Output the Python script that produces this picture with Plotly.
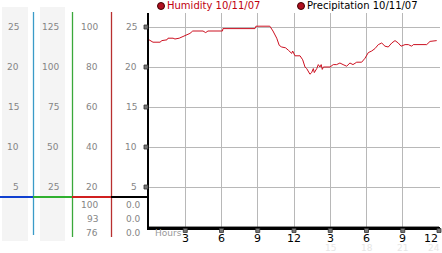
import plotly.graph_objects as go

W, H = 442, 253

# ---------------- data ----------------
hours = [0, 0.33, 0.91, 1.07, 1.49, 1.57, 1.99, 2.15, 2.5, 2.81, 3.14, 3.39, 3.62, 4.47, 4.69, 4.88,
         6.08, 6.12, 8.77, 8.85, 10.0, 10.26, 10.57, 10.78, 10.98, 11.3, 11.53, 11.81, 11.89, 12.08,
         12.5, 12.72, 12.91, 13.05, 13.32, 13.46, 13.6, 13.68, 13.88, 14.01, 14.15, 14.25, 14.34,
         14.43, 14.98, 15.25, 15.53, 15.8, 16.06, 16.36, 16.63, 16.88, 17.19, 17.6, 17.88, 18.15,
         18.43, 18.7, 18.98, 19.26, 19.53, 19.8, 20.09, 20.36, 20.63, 20.86, 21.19, 21.46, 21.74,
         21.87, 22.98, 23.26, 23.81]
humidity = [23.4, 23.1, 23.1, 23.3, 23.4, 23.6, 23.6, 23.5, 23.6, 23.8, 24.0, 24.2, 24.5, 24.5, 24.3,
            24.5, 24.5, 24.8, 24.8, 25.1, 25.1, 24.5, 23.6, 22.7, 22.5, 22.4, 22.1, 21.7, 22.0, 21.4,
            21.4, 20.9, 20.0, 19.8, 19.1, 19.3, 19.8, 19.3, 19.8, 20.3, 20.0, 20.3, 19.7, 20.0, 20.0,
            20.3, 20.3, 20.5, 20.3, 20.1, 20.5, 20.3, 20.6, 20.6, 21.1, 21.8, 22.0, 22.3, 22.8, 23.0,
            22.6, 22.5, 23.0, 23.3, 23.0, 22.6, 22.8, 22.8, 22.6, 22.8, 22.8, 23.2, 23.3]
precip_hours = [0, 24]
precipitation = [0.0, 0.0]

y_ticks = [5, 10, 15, 20, 25]
col1_labels = ["5", "10", "15", "20", "25"]
col2_labels = ["25", "50", "75", "100", "125"]
col3_labels = ["20", "40", "60", "80", "100"]
col4_labels = ["5", "10", "15", "20", "25"]
col3_stats = ["100", "93", "76"]
col4_stats = ["0.0", "0.0", "0.0"]

x_ticks = [3, 6, 9, 12, 15, 18, 21, 24]
x_tick_text = ["3", "6", "9", "12", "3", "6", "9", "12"]
x_faint_ticks = [15, 18, 21, 24]
x_faint_text = ["15", "18", "21", "24"]

legend_names = ["Humidity 10/11/07", "Precipitation 10/11/07"]

# ---------------- helpers ----------------
def X(px):
    return px / W

def Y(py):
    return 1 - py / H

FONT = "DejaVu Sans"
GREY = "#858585"
RED = "#cc1020"
X_END = 24.05
Y_END = 26.75
XDOM = [X(149), X(149 + 290 * X_END / 24)]
YDOM = [Y(227), Y(13)]

def xpaper(v):
    return XDOM[0] + (XDOM[1] - XDOM[0]) * v / X_END

def ypaper(v):
    return YDOM[0] + (YDOM[1] - YDOM[0]) * v / Y_END

fig = go.Figure()

fig.add_trace(go.Scatter(x=precip_hours, y=precipitation, mode="lines",
                         line=dict(color="#222222", width=1), hoverinfo="skip"))
fig.add_trace(go.Scatter(x=hours, y=humidity, mode="lines",
                         line=dict(color=RED, width=1), hoverinfo="skip"))

shapes = []
# grey column backgrounds
shapes.append(dict(type="rect", xref="paper", yref="paper", x0=X(2), x1=X(28), y0=Y(241), y1=Y(7),
                   fillcolor="#f4f4f4", line=dict(width=0), layer="below"))
shapes.append(dict(type="rect", xref="paper", yref="paper", x0=X(40), x1=X(65), y0=Y(241), y1=Y(7),
                   fillcolor="#f4f4f4", line=dict(width=0), layer="below"))
# vertical scale lines
for px, col, bottom in [(33.5, "#3a9bc8", 235), (72.5, "#3aa83a", 237), (111.5, "#b83030", 237)]:
    shapes.append(dict(type="line", xref="paper", yref="paper", x0=X(px), x1=X(px), y0=Y(bottom), y1=Y(12),
                       line=dict(color=col, width=1.3)))
# horizontal coloured baseline
for x0, x1, col in [(0, 33, "#1040d0"), (33, 72, "#30b030"), (72, 111, "#d02020"), (111, 149, "#000000")]:
    shapes.append(dict(type="line", xref="paper", yref="paper", x0=X(x0), x1=X(x1), y0=Y(197), y1=Y(197),
                       line=dict(color=col, width=2.2)))
# legend dots
for cx in [161, 301]:
    shapes.append(dict(type="circle", xref="paper", yref="paper", x0=X(cx - 3.5), x1=X(cx + 3.5),
                       y0=Y(9.5), y1=Y(2.5), fillcolor="#b01020", line=dict(color="#400000", width=1)))

# small checkered tick markers (paper coordinates derived from the tick values)
def marker(xp, yp):
    dx, dy = 2 / W, 2 / H
    shapes.append(dict(type="rect", xref="paper", yref="paper",
                       x0=xp - dx, x1=xp + dx, y0=yp - dy, y1=yp + dy,
                       fillcolor="#777777", line=dict(color="#333333", width=0.8), layer="above"))

for v in y_ticks:
    marker(X(146), ypaper(v))
for v in x_ticks:
    marker(xpaper(v), Y(230.5))

annotations = []
def label(text, px_right, y, yref="y", color=GREY, size=9):
    annotations.append(dict(text=text, xref="paper", yref=yref, x=X(px_right), y=y,
                            xanchor="right", yanchor="middle", showarrow=False,
                            font=dict(family=FONT, size=size, color=color)))

for v, a, b, c, d in zip(y_ticks, col1_labels, col2_labels, col3_labels, col4_labels):
    label(a, 21, v)
    label(b, 61, v)
    label(c, 100, v)
    label(d, 139, v)

for py, c, d in zip([205, 219, 233], col3_stats, col4_stats):
    label(c, 100, Y(py), yref="paper")
    label(d, 143, Y(py), yref="paper")

for i, (xv, t) in enumerate(zip(x_ticks, x_tick_text)):
    last = i == len(x_ticks) - 1
    annotations.append(dict(text=t, xref="x" if not last else "paper", yref="paper",
                            x=xv if not last else X(440), y=Y(238.5),
                            xanchor="center" if not last else "right",
                            yanchor="middle", showarrow=False,
                            font=dict(family=FONT, size=11, color="black")))
for i, (xv, t) in enumerate(zip(x_faint_ticks, x_faint_text)):
    last = i == len(x_faint_ticks) - 1
    annotations.append(dict(text=t, xref="x" if not last else "paper", yref="paper",
                            x=xv if not last else X(442), y=Y(247.5),
                            xanchor="center" if not last else "right",
                            yanchor="middle", showarrow=False,
                            font=dict(family=FONT, size=9, color="#e6e6e6")))
annotations.append(dict(text="Hours", xref="paper", yref="paper", x=X(153), y=Y(232.5), xanchor="left",
                        yanchor="middle", showarrow=False, font=dict(family=FONT, size=9, color="#999999")))

for px, name, col in [(165, legend_names[0], "#c00010"), (305, legend_names[1], "#000000")]:
    annotations.append(dict(text=name, xref="paper", yref="paper", x=X(px), y=Y(6), xanchor="left",
                            yanchor="middle", showarrow=False, font=dict(family=FONT, size=10, color=col)))

fig.update_layout(
    width=W, height=H, autosize=False,
    margin=dict(l=0, r=0, t=0, b=0, pad=0),
    paper_bgcolor="white", plot_bgcolor="white",
    showlegend=False,
    shapes=shapes, annotations=annotations,
    xaxis=dict(domain=XDOM, range=[0, X_END], tick0=0, dtick=3,
               showgrid=True, gridcolor="#b8b8b8", gridwidth=1, showticklabels=False, ticks="",
               showline=True, linecolor="black", linewidth=3, zeroline=False, fixedrange=True),
    yaxis=dict(domain=YDOM, range=[0, Y_END], tick0=0, dtick=5, showgrid=True,
               gridcolor="#b8b8b8", gridwidth=1, showticklabels=False, ticks="",
               showline=True, linecolor="black", linewidth=2, zeroline=False, fixedrange=True),
)

fig.write_html("out.html")
